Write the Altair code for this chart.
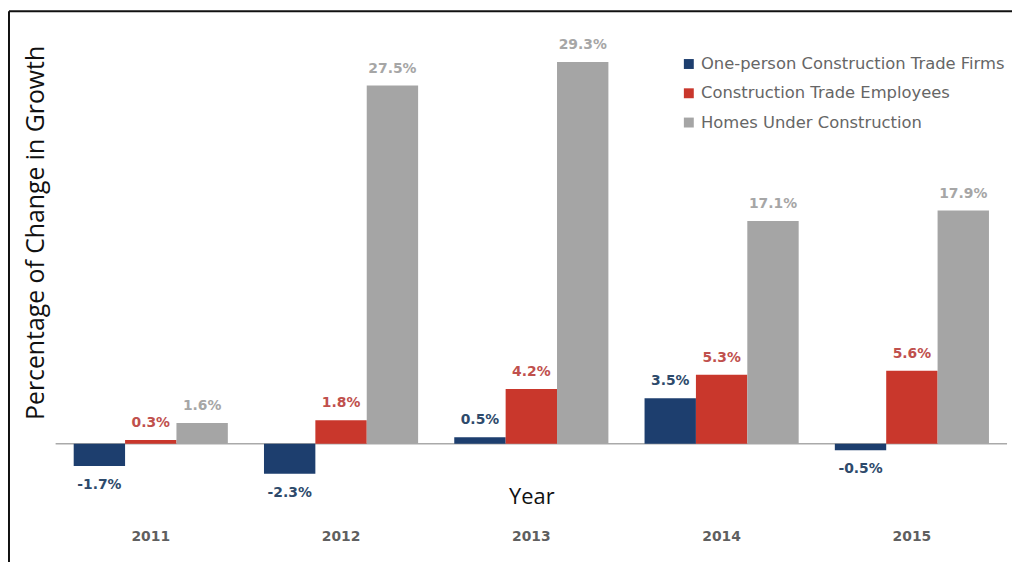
import altair as alt
import pandas as pd

years = ["2011", "2012", "2013", "2014", "2015"]
series = ["One-person Construction Trade Firms", "Construction Trade Employees", "Homes Under Construction"]
firms = [-1.7, -2.3, 0.5, 3.5, -0.5]
employees = [0.3, 1.8, 4.2, 5.3, 5.6]
homes = [1.6, 27.5, 29.3, 17.1, 17.9]
colors = ["#1d3e6e", "#c9372c", "#a5a5a5"]
label_colors = ["#2e4a6b", "#c0504d", "#a6a6a6"]

rows = []
for i, y in enumerate(years):
    for s, vals in zip(series, [firms, employees, homes]):
        v = vals[i]
        rows.append({"year": y, "series": s, "value": v, "label": f"{v:.1f}%"})
df = pd.DataFrame(rows)

W, H = 959, 484
TOP = 30
x_enc = alt.X("year:N", sort=years,
              scale=alt.Scale(paddingInner=0.19, paddingOuter=0.095),
              axis=alt.Axis(title="Year", domain=False, ticks=False, labelAngle=0,
                            labelFont="DejaVu Sans", labelFontSize=14, labelFontWeight="bold",
                            labelColor="#5f5f5f", labelPadding=10, labelBaseline="top",
                            titleFont="Open Sans", titleFontSize=22, titleFontWeight="normal",
                            titleColor="#111111", titleY=-24, titleBaseline="middle"))
y_scale = alt.Scale(domain=[-5.86, 31], nice=False, zero=False)
y_enc = alt.Y("value:Q", scale=y_scale,
              axis=alt.Axis(title="Percentage of Change in Growth", labels=False, ticks=False,
                            domain=False, grid=False, titleFont="Open Sans", titleFontSize=25,
                            titleFontWeight="normal", titleColor="#111111",
                            titleAngle=270, titleAlign="center", titleBaseline="middle",
                            titleX=-20, titleY=194))
color_enc = alt.Color("series:N", sort=series,
                      scale=alt.Scale(domain=series, range=colors),
                      legend=alt.Legend(title=None, orient="none", legendX=630, legendY=16,
                                        symbolType="square", symbolSize=100, symbolStrokeWidth=0,
                                        labelFont="DejaVu Sans", labelFontSize=16.5,
                                        labelColor="#666666", rowPadding=12.5, labelOffset=4,
                                        labelLimit=400))
xoff = alt.XOffset("series:N", sort=series, scale=alt.Scale(domain=series, paddingInner=0, paddingOuter=0))

base = alt.Chart(df)
bars = base.mark_bar(opacity=1).encode(x=x_enc, y=y_enc, xOffset=xoff, color=color_enc)

lab_color = alt.Color("series:N", scale=alt.Scale(domain=series, range=label_colors), legend=None)
pos_lab = base.transform_filter("datum.value >= 0").mark_text(
    font="DejaVu Sans", fontSize=14, fontWeight="bold", baseline="bottom", dy=-10
).encode(x=alt.X("year:N", sort=years), y=alt.Y("value:Q", scale=y_scale), xOffset=xoff,
         text="label:N", color=lab_color)
neg_lab = base.transform_filter("datum.value < 0").mark_text(
    font="DejaVu Sans", fontSize=14, fontWeight="bold", baseline="top", dy=12
).encode(x=alt.X("year:N", sort=years), y=alt.Y("value:Q", scale=y_scale), xOffset=xoff,
         text="label:N", color=lab_color)

zero = alt.Chart(pd.DataFrame({"z": [0]})).mark_rule(color="#aaaaaa", strokeWidth=1.5).encode(
    y=alt.Y("z:Q", scale=y_scale))

one = pd.DataFrame({"a": [0]})
frame_top = alt.Chart(one).mark_rule(color="#111111", strokeWidth=2).encode(
    x=alt.value(-47), x2=alt.value(970), y=alt.value(-TOP + 1))
frame_left = alt.Chart(one).mark_rule(color="#111111", strokeWidth=2).encode(
    x=alt.value(-47), y=alt.value(-TOP + 1), y2=alt.value(540))

chart = alt.layer(zero, bars, pos_lab, neg_lab, frame_top, frame_left).resolve_scale(
    color="independent"
).properties(
    width=W, height=H,
    padding={"left": 48, "top": TOP, "right": 5, "bottom": 40},
    autosize=alt.AutoSizeParams(type="none"),
    background="white",
).configure_view(strokeWidth=0, stroke="transparent")

chart.save("out.html", embed_options={"renderer": "svg", "actions": False})
